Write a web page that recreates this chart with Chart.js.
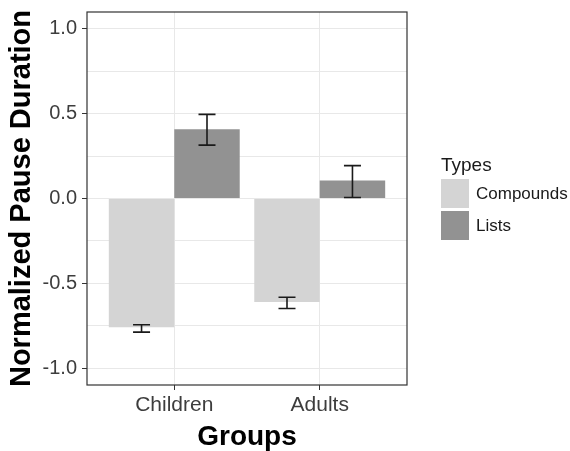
<!DOCTYPE html>
<html>
<head>
<meta charset="utf-8">
<script src="https://cdn.jsdelivr.net/npm/chart.js@4.4.1/dist/chart.umd.min.js"></script>
<style>
  html, body { margin: 0; padding: 0; background: #fff; }
  #wrap { width: 570px; height: 451px; }
</style>
</head>
<body>
<div id="wrap"><canvas id="myChart" width="570" height="451"></canvas></div>
<script>
// data
var groups = ['Children', 'Adults'];
var types = ['Compounds', 'Lists'];
var compounds = [-0.76, -0.61];
var compoundsLow = [-0.788, -0.649];
var compoundsHigh = [-0.745, -0.582];
var lists = [0.408, 0.106];
var listsLow = [0.315, 0.006];
var listsHigh = [0.496, 0.194];
var yTicks = [-1.0, -0.75, -0.5, -0.25, 0.0, 0.25, 0.5, 0.75, 1.0];

var FONT = 'Liberation Sans, Arial, Helvetica, sans-serif';

function points(vals) {
  return vals.map(function (v, i) { return { x: i, y: v }; });
}

var dataSource = {
  datasets: [
    {
      label: types[0],
      data: points(compounds),
      backgroundColor: '#d4d4d4',
      errLow: compoundsLow,
      errHigh: compoundsHigh
    },
    {
      label: types[1],
      data: points(lists),
      backgroundColor: '#929292',
      errLow: listsLow,
      errHigh: listsHigh
    }
  ]
};

// error bars drawn from the y scale
var errorBars = {
  id: 'errorBars',
  afterDatasetsDraw: function (chart) {
    var ctx = chart.ctx;
    var ys = chart.scales.y;
    ctx.save();
    ctx.strokeStyle = '#1a1a1a';
    ctx.lineWidth = 1.6;
    chart.data.datasets.forEach(function (ds, di) {
      var meta = chart.getDatasetMeta(di);
      meta.data.forEach(function (bar, i) {
        var lo = ys.getPixelForValue(ds.errLow[i]);
        var hi = ys.getPixelForValue(ds.errHigh[i]);
        var w = 8.5;
        ctx.beginPath();
        ctx.moveTo(bar.x, lo); ctx.lineTo(bar.x, hi);
        ctx.moveTo(bar.x - w, lo); ctx.lineTo(bar.x + w, lo);
        ctx.moveTo(bar.x - w, hi); ctx.lineTo(bar.x + w, hi);
        ctx.stroke();
      });
    });
    ctx.restore();
  }
};

// panel border + legend on the right
var panel = {
  id: 'panel',
  afterDraw: function (chart) {
    var ctx = chart.ctx;
    var a = chart.chartArea;
    ctx.save();
    ctx.strokeStyle = '#333333';
    ctx.lineWidth = 1.2;
    ctx.strokeRect(a.left, a.top, a.right - a.left, a.bottom - a.top);

    var lx = 441;
    ctx.fillStyle = '#1a1a1a';
    ctx.font = '19px ' + FONT;
    ctx.textBaseline = 'alphabetic';
    ctx.textAlign = 'left';
    ctx.fillText('Types', lx, 171);
    var keyTops = [179, 211];
    ctx.font = '17px ' + FONT;
    chart.data.datasets.forEach(function (ds, i) {
      ctx.fillStyle = ds.backgroundColor;
      ctx.fillRect(lx, keyTops[i], 28, 29);
      ctx.fillStyle = '#1a1a1a';
      ctx.textBaseline = 'middle';
      ctx.fillText(ds.label, 476, keyTops[i] + 15);
    });
    ctx.restore();
  }
};

var ctx = document.getElementById('myChart').getContext('2d');
var myChart = new Chart(ctx, {
  type: 'bar',
  data: dataSource,
  plugins: [errorBars, panel],
  options: {
    responsive: false,
    animation: false,
    devicePixelRatio: 1,
    layout: { padding: { left: 0, top: 12, right: 163, bottom: 0 } },
    datasets: { bar: { categoryPercentage: 0.9, barPercentage: 1.0 } },
    plugins: { legend: { display: false }, tooltip: { enabled: false } },
    scales: {
      x: {
        type: 'linear',
        min: -0.6,
        max: 1.6,
        offset: false,
        afterBuildTicks: function (scale) {
          scale.ticks = groups.map(function (g, i) { return { value: i }; });
        },
        afterFit: function (scale) {
          scale.height = 66;
          scale.paddingLeft = 0;
          scale.paddingRight = 0;
        },
        grid: { offset: false, color: '#e8e8e8', tickColor: '#333333', tickLength: 5, drawTicks: true },
        border: { display: false },
        ticks: {
          color: '#3d3d3d',
          font: { family: FONT, size: 21 },
          padding: 3,
          maxRotation: 0,
          autoSkip: false,
          callback: function (v) { return groups[v]; }
        },
        title: {
          display: true,
          text: 'Groups',
          color: '#000',
          font: { family: FONT, size: 28, weight: 'bold', lineHeight: 1 },
          padding: { top: 0, bottom: 0 }
        }
      },
      y: {
        min: -1.1,
        max: 1.1,
        afterBuildTicks: function (scale) {
          scale.ticks = yTicks.map(function (v) { return { value: v }; });
        },
        afterFit: function (scale) {
          scale.width = 87;
          scale.paddingTop = 0;
          scale.paddingBottom = 0;
        },
        grid: {
          color: '#e8e8e8',
          tickLength: 5,
          tickColor: function (c) {
            return (c.tick && Math.abs(c.tick.value * 2 - Math.round(c.tick.value * 2)) < 1e-6) ? '#333333' : 'rgba(0,0,0,0)';
          }
        },
        border: { display: false },
        ticks: {
          color: '#3d3d3d',
          font: { family: FONT, size: 20 },
          padding: 5,
          autoSkip: false,
          callback: function (v) {
            if (Math.abs(v * 2 - Math.round(v * 2)) > 1e-6) return '';
            return Number(v).toFixed(1);
          }
        },
        title: {
          display: true,
          text: 'Normalized Pause Duration',
          color: '#000',
          font: { family: FONT, size: 29, weight: 'bold', lineHeight: 1 },
          padding: { top: 7, bottom: 0 }
        }
      }
    }
  }
});
</script>
</body>
</html>
